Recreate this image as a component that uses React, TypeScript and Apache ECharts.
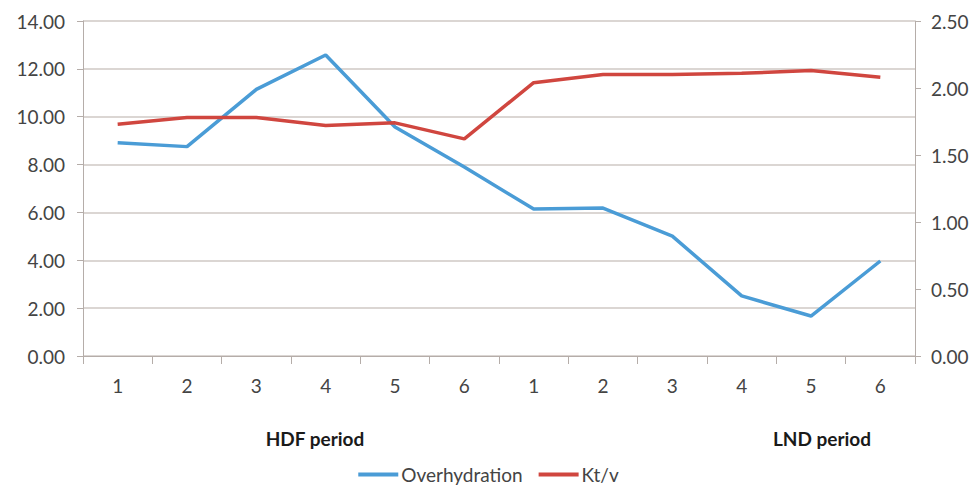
import React, { useEffect, useRef } from "react";
import * as echarts from "echarts";

const categories = ["1", "2", "3", "4", "5", "6", "1", "2", "3", "4", "5", "6"];
const overhydration = [8.91, 8.75, 11.14, 12.58, 9.57, 7.9, 6.14, 6.18, 5.01, 2.51, 1.67, 3.97];
const ktv = [1.73, 1.78, 1.78, 1.72, 1.74, 1.62, 2.04, 2.1, 2.1, 2.11, 2.13, 2.08];
const periodLabels = ["HDF period", "LND period"];

const FONT = "Lato, 'Open Sans', sans-serif";
const TEXT = "#444444";
const GRID = "#cfc8c4";
const AXIS = "#b5ada9";

export default function App() {
  const ref = useRef<HTMLDivElement>(null);
  useEffect(() => {
    if (!ref.current) return;
    const chart = echarts.init(ref.current, undefined, { renderer: "svg" });
    chart.setOption({
      animation: false,
      backgroundColor: "#ffffff",
      textStyle: { fontFamily: FONT },
      grid: { left: 83, right: 62, top: 21, bottom: 134 },
      legend: {
        bottom: 1,
        left: "center",
        icon: "rect",
        itemWidth: 40,
        itemHeight: 4,
        itemGap: 16,
        textStyle: { fontFamily: FONT, fontSize: 19, color: TEXT, padding: [0, 0, 0, -2] },
        data: ["Overhydration", "Kt/v"],
      },
      xAxis: {
        type: "category",
        data: categories,
        boundaryGap: true,
        axisLine: { lineStyle: { color: AXIS, width: 1 } },
        axisTick: { show: true, interval: 0, length: 8, lineStyle: { color: AXIS } },
        axisLabel: { fontFamily: FONT, fontSize: 19, color: TEXT, margin: 20 },
      },
      yAxis: [
        {
          type: "value",
          min: 0,
          max: 14,
          interval: 2,
          axisLine: { show: true, lineStyle: { color: AXIS } },
          axisTick: { show: true, length: 6, lineStyle: { color: AXIS } },
          splitLine: { show: true, lineStyle: { color: GRID, width: 1.5 } },
          axisLabel: {
            fontFamily: FONT,
            fontSize: 19,
            color: TEXT,
            margin: 18,
            formatter: (v: number) => v.toFixed(2),
          },
        },
        {
          type: "value",
          min: 0,
          max: 2.5,
          interval: 0.5,
          position: "right",
          axisLine: { show: true, lineStyle: { color: AXIS } },
          axisTick: { show: true, length: 6, lineStyle: { color: AXIS } },
          splitLine: { show: false },
          axisLabel: {
            fontFamily: FONT,
            fontSize: 19,
            color: TEXT,
            margin: 16,
            formatter: (v: number) => v.toFixed(2),
          },
        },
      ],
      series: [
        {
          name: "Overhydration",
          type: "line",
          yAxisIndex: 0,
          data: overhydration,
          symbol: "none",
          color: "#4a9cd6",
          lineStyle: { width: 3.5, color: "#4a9cd6" },
        },
        {
          name: "Kt/v",
          type: "line",
          yAxisIndex: 1,
          data: ktv,
          symbol: "none",
          color: "#d0463f",
          lineStyle: { width: 3.5, color: "#d0463f" },
        },
      ],
      graphic: [
        {
          type: "text",
          x: 315,
          y: 438,
          style: {
            text: periodLabels[0],
            fontFamily: FONT,
            fontSize: 19,
            fontWeight: "bold",
            fill: "#1a1a1a",
            align: "center",
            verticalAlign: "middle",
          },
        },
        {
          type: "text",
          x: 822,
          y: 438,
          style: {
            text: periodLabels[1],
            fontFamily: FONT,
            fontSize: 19,
            fontWeight: "bold",
            fill: "#1a1a1a",
            align: "center",
            verticalAlign: "middle",
          },
        },
      ],
    });
    return () => chart.dispose();
  }, []);
  return (
    <div
      ref={ref}
      style={{ position: "absolute", left: 0, top: 0, width: 977, height: 490 }}
    />
  );
}
